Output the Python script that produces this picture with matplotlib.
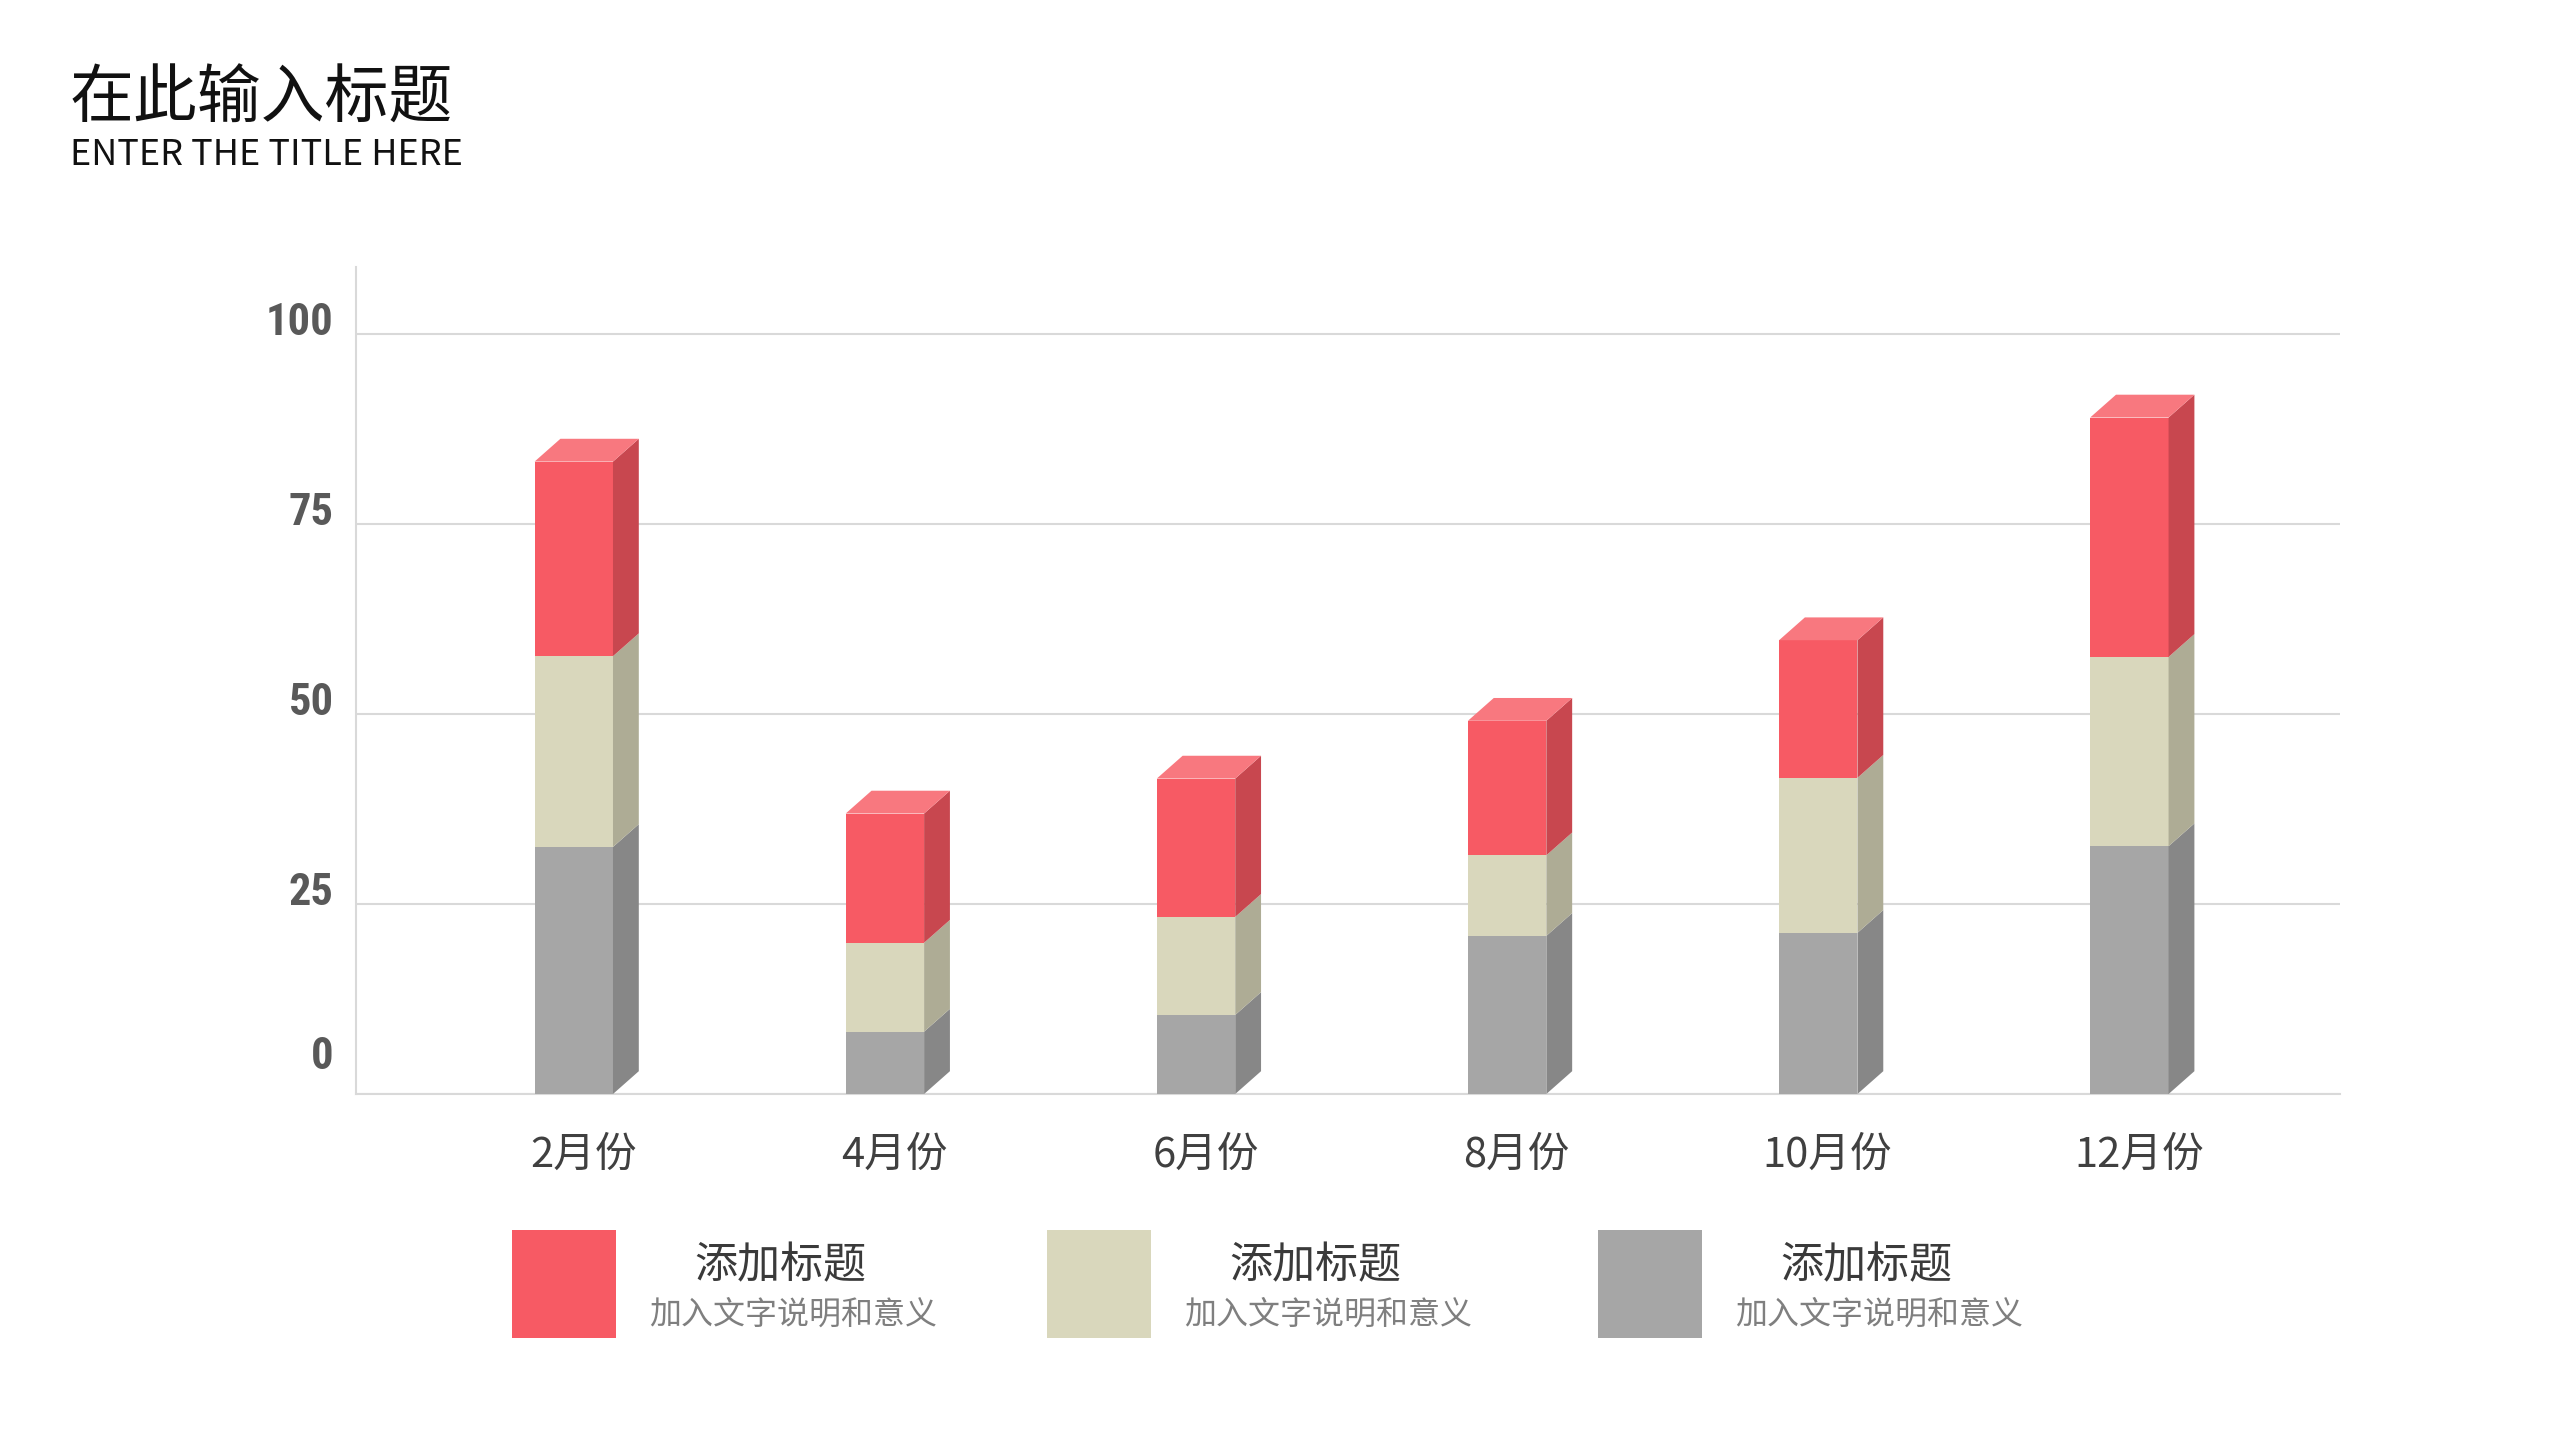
import numpy as np
import matplotlib
matplotlib.use('Agg')
import matplotlib.pyplot as plt
from matplotlib.patches import Polygon, Rectangle
from matplotlib import font_manager
import matplotlib.transforms as mtransforms

# ---------------- data ----------------
months = ['2月份', '4月份', '6月份', '8月份', '10月份', '12月份']
# stacked bottom -> top
gray_vals = [32.5, 8.2, 10.4, 20.8, 21.2, 32.6]
beige_vals = [25.1, 11.7, 12.9, 10.6, 20.4, 24.9]
red_vals = [25.6, 17.0, 18.2, 17.7, 18.1, 31.5]
yticks = [0, 25, 50, 75, 100]
ytick_labels = ['0', '25', '50', '75', '100']
legend_titles = ['添加标题', '添加标题', '添加标题']
legend_descs = ['加入文字说明和意义', '加入文字说明和意义', '加入文字说明和意义']
title_cn = '在此输入标题'
title_en = 'ENTER THE TITLE HERE'

# ---------------- style ----------------
front_cols = {'red': '#F75A64', 'beige': '#D9D7BC', 'gray': '#A6A6A6'}
side_cols = {'red': '#C8474F', 'beige': '#AEAC95', 'gray': '#878787'}
top_cols = {'red': '#F8787F', 'beige': '#E4E2CD', 'gray': '#BDBDBD'}

CJK = ['Noto Sans CJK SC', 'DejaVu Sans']
plt.rcParams['font.family'] = CJK

available = {f.name for f in font_manager.fontManager.ttflist}
yfont, ysize = 'DejaVu Sans', 25
for cand, sz in [('Liberation Sans Narrow', 34), ('Roboto Condensed', 32),
                 ('DejaVu Sans Condensed', 27), ('Open Sans Condensed', 32)]:
    if cand in available:
        yfont, ysize = cand, sz
        break

W, H = 2560, 1440
fig = plt.figure(figsize=(W / 100, H / 100), dpi=100)
fig.patch.set_facecolor('white')

ax_left, ax_right = 356 / W, 2340 / W
ax_bottom, ax_top = 1 - 1094 / H, 1 - 267 / H
ax = fig.add_axes([ax_left, ax_bottom, ax_right - ax_left, ax_top - ax_bottom])
ax.set_facecolor('white')

x = np.arange(len(months))
width = 0.252
dx, dy = 0.083, 3.0

ax.set_xlim(-0.70, 5.677)
ax.set_ylim(0, 108.8)

series = [('gray', gray_vals), ('beige', beige_vals), ('red', red_vals)]
bottoms = np.zeros(len(months))
for si, (key, vals) in enumerate(series):
    vals = np.array(vals)
    ax.bar(x, vals, width, bottom=bottoms, color=front_cols[key], linewidth=0, zorder=3)
    for i in range(len(months)):
        x1 = x[i] + width / 2
        b = bottoms[i]
        t = bottoms[i] + vals[i]
        ax.add_patch(Polygon([(x1, b), (x1 + dx, b + dy), (x1 + dx, t + dy), (x1, t)],
                             closed=True, facecolor=side_cols[key], edgecolor='none', zorder=3))
        if si == len(series) - 1:
            x0 = x[i] - width / 2
            ax.add_patch(Polygon([(x0, t), (x1, t), (x1 + dx, t + dy), (x0 + dx, t + dy)],
                                 closed=True, facecolor=top_cols[key], edgecolor='none', zorder=3))
    bottoms = bottoms + vals

# axes styling
for s in ['top', 'right']:
    ax.spines[s].set_visible(False)
for s in ['left', 'bottom']:
    ax.spines[s].set_color('#D9D9D9')
    ax.spines[s].set_linewidth(1.5)
ax.set_axisbelow(True)
ax.yaxis.grid(True, color='#D9D9D9', linewidth=1.5)
ax.xaxis.grid(False)

ax.set_yticks(yticks)
ax.set_yticklabels(ytick_labels, fontsize=ysize, fontweight='bold', color='#595959',
                   family=[yfont, 'DejaVu Sans'], va='center')
ax.tick_params(axis='y', length=0, pad=16)
for lab, val in zip(ax.get_yticklabels(), yticks):
    up = 37 if val == 0 else 10.5
    lab.set_transform(lab.get_transform() + mtransforms.ScaledTranslation(0, up / 100, fig.dpi_scale_trans))

ax.set_xticks(x + 0.03)
ax.set_xticklabels(months, fontsize=30, color='#404040', va='center')
ax.tick_params(axis='x', length=0, pad=44)

# titles
fig.text(70 / W, 1 - 99 / H, title_cn, fontsize=46, color='#111111', va='center', ha='left')
fig.text(70 / W, 1 - 155 / H, title_en, fontsize=26, color='#111111', va='center', ha='left')

# custom legend
legend_keys = ['red', 'beige', 'gray']
sq_lefts = [512, 1047, 1598]
for k, left, t1, t2 in zip(legend_keys, sq_lefts, legend_titles, legend_descs):
    fig.add_artist(Rectangle((left / W, 1 - 1338 / H), 104 / W, 108 / H,
                             transform=fig.transFigure, facecolor=front_cols[k], edgecolor='none'))
    fig.text((left + 268) / W, 1 - 1266 / H, t1, fontsize=31, color='#3A3A3A', ha='center', va='center')
    fig.text((left + 137) / W, 1 - 1315 / H, t2, fontsize=23, color='#7F7F7F', ha='left', va='center')

fig.savefig('out.png', dpi=100, facecolor='white')
